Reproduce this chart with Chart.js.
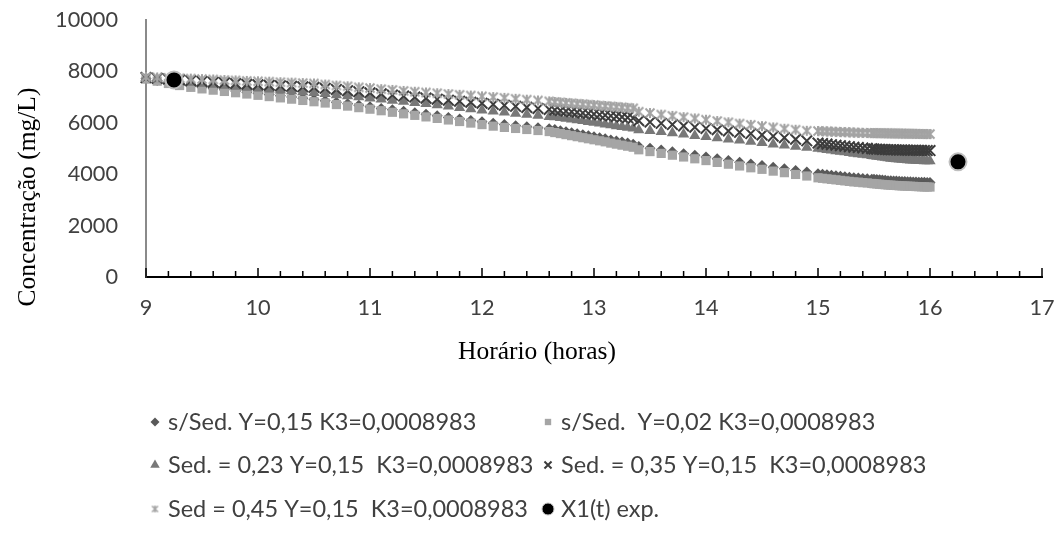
<!DOCTYPE html>
<html>
<head>
<meta charset="utf-8">
<script src="https://cdn.jsdelivr.net/npm/chart.js"></script>
<style>
  html, body { margin: 0; padding: 0; background: #fff; }
  #wrap { width: 1061px; height: 536px; }
</style>
</head>
<body>
<div id="wrap"><canvas id="c" width="1061" height="536"></canvas></div>
<script>
// Simulation times (hours)
const horas = [
  9, 9.1, 9.2, 9.3, 9.4, 9.5, 9.6, 9.7, 9.8, 9.9,
  10, 10.1, 10.2, 10.3, 10.4, 10.5, 10.6, 10.7, 10.8, 10.9,
  11, 11.1, 11.2, 11.3, 11.4, 11.5, 11.6, 11.7, 11.8, 11.9,
  12, 12.1, 12.2, 12.3, 12.4, 12.5, 12.6,
  12.65, 12.7, 12.75, 12.8, 12.85, 12.9, 12.95, 13, 13.05, 13.1, 13.15, 13.2, 13.25, 13.3, 13.35,
  13.4, 13.5, 13.6, 13.7, 13.8, 13.9, 14, 14.1, 14.2, 14.3, 14.4, 14.5, 14.6, 14.7, 14.8, 14.9,
  15, 15.04, 15.08, 15.12, 15.16, 15.2, 15.24, 15.28, 15.32, 15.36, 15.4, 15.44, 15.48,
  15.5, 15.525, 15.55, 15.575, 15.6, 15.625, 15.65, 15.675, 15.7, 15.725, 15.75, 15.775,
  15.8, 15.825, 15.85, 15.875, 15.9, 15.925, 15.95, 15.975, 16
];

// Concentration (mg/L) without sedimentation, Y = 0,15
const semSedY015 = [
  7720, 7650, 7570, 7500, 7430, 7380, 7330, 7290, 7240, 7190,
  7150, 7100, 7050, 7000, 6960, 6910, 6860, 6800, 6740, 6680,
  6620, 6560, 6510, 6450, 6390, 6330, 6270, 6210, 6150, 6090,
  6040, 5980, 5930, 5890, 5850, 5810, 5770,
  5735, 5695, 5655, 5615, 5575, 5535, 5495, 5455, 5415, 5375, 5330, 5290, 5250, 5210, 5170,
  5080, 5010, 4940, 4870, 4800, 4735, 4665, 4600, 4530, 4465, 4395, 4340, 4270, 4210, 4145, 4085,
  4020, 4000, 3980, 3960, 3940, 3920, 3900, 3885, 3865, 3855, 3835, 3825, 3805,
  3800, 3790, 3780, 3770, 3760, 3750, 3745, 3740, 3735, 3725, 3720, 3715,
  3710, 3705, 3700, 3695, 3690, 3690, 3685, 3680, 3680
];

// Without sedimentation, Y = 0,02
const semSedY002 = [
  7700, 7620, 7530, 7450, 7380, 7320, 7270, 7220, 7170, 7120,
  7070, 7020, 6970, 6920, 6870, 6820, 6770, 6710, 6650, 6590,
  6530, 6470, 6410, 6350, 6290, 6230, 6170, 6110, 6050, 5990,
  5930, 5870, 5820, 5780, 5740, 5700, 5660,
  5620, 5580, 5540, 5500, 5460, 5420, 5380, 5340, 5300, 5260, 5210, 5170, 5130, 5090, 5050,
  4950, 4880, 4810, 4740, 4670, 4600, 4530, 4460, 4390, 4320, 4250, 4190, 4120, 4060, 3990, 3930,
  3860, 3840, 3820, 3800, 3780, 3760, 3740, 3720, 3700, 3690, 3670, 3660, 3640,
  3630, 3620, 3610, 3600, 3590, 3580, 3575, 3565, 3560, 3550, 3545, 3540,
  3535, 3530, 3525, 3520, 3515, 3510, 3505, 3500, 3500
];

// Sedimentation 0,23
const sed023 = [
  7750, 7705, 7660, 7615, 7570, 7530, 7490, 7450, 7415, 7375,
  7340, 7305, 7270, 7235, 7200, 7170, 7130, 7085, 7045, 7000,
  6960, 6915, 6870, 6830, 6785, 6740, 6690, 6640, 6590, 6540,
  6490, 6450, 6410, 6365, 6325, 6280, 6240,
  6230, 6200, 6170, 6140, 6110, 6075, 6045, 6010, 5980, 5945, 5910, 5880, 5850, 5820, 5790,
  5720, 5690, 5650, 5600, 5550, 5500, 5460, 5410, 5360, 5320, 5270, 5220, 5170, 5130, 5080, 5040,
  5000, 4980, 4955, 4930, 4905, 4880, 4860, 4835, 4810, 4790, 4765, 4745, 4720,
  4710, 4690, 4675, 4660, 4645, 4630, 4615, 4600, 4590, 4580, 4570, 4560,
  4550, 4545, 4540, 4530, 4525, 4520, 4515, 4510, 4510
];

// Sedimentation 0,35
const sed035 = [
  7760, 7730, 7700, 7670, 7640, 7610, 7580, 7555, 7530, 7500,
  7480, 7460, 7440, 7420, 7400, 7380, 7340, 7300, 7250, 7210,
  7170, 7130, 7080, 7040, 7000, 6960, 6920, 6880, 6840, 6800,
  6760, 6720, 6680, 6640, 6600, 6560, 6520,
  6500, 6475, 6455, 6430, 6410, 6385, 6365, 6340, 6315, 6295, 6270, 6250, 6225, 6205, 6180,
  6080, 6030, 5980, 5930, 5880, 5830, 5780, 5730, 5680, 5630, 5580, 5530, 5480, 5420, 5360, 5300,
  5210, 5190, 5170, 5150, 5130, 5110, 5090, 5070, 5050, 5035, 5020, 5005, 4990,
  4980, 4975, 4970, 4965, 4960, 4955, 4950, 4948, 4945, 4942, 4940, 4938,
  4935, 4932, 4930, 4928, 4926, 4924, 4922, 4920, 4920
];

// Sedimentation 0,45
const sed045 = [
  7780, 7765, 7750, 7735, 7720, 7700, 7685, 7665, 7650, 7630,
  7615, 7600, 7580, 7565, 7545, 7530, 7490, 7450, 7420, 7380,
  7350, 7310, 7280, 7240, 7210, 7180, 7150, 7120, 7090, 7060,
  7030, 7000, 6970, 6935, 6900, 6870, 6835,
  6810, 6795, 6775, 6760, 6740, 6725, 6705, 6690, 6670, 6655, 6635, 6620, 6600, 6585, 6565,
  6430, 6380, 6320, 6270, 6220, 6170, 6120, 6070, 6020, 5970, 5920, 5870, 5820, 5770, 5730, 5690,
  5680, 5670, 5665, 5655, 5650, 5640, 5635, 5630, 5620, 5615, 5610, 5605, 5600,
  5600, 5598, 5596, 5594, 5592, 5590, 5588, 5586, 5584, 5582, 5580, 5578,
  5576, 5574, 5572, 5570, 5568, 5566, 5564, 5562, 5560
];

// Experimental measurements X1(t)
const expHoras = [9.25, 16.25];
const expConc = [7670, 4480];

// Axis tick values
const yTicks = [0, 2000, 4000, 6000, 8000, 10000];
const xMin = 9, xMax = 17;

const xTitle = 'Horário (horas)';
const yTitle = 'Concentração (mg/L)';

const pts = (xs, ys) => xs.map((x, i) => ({ x: x, y: ys[i] }));

// Asterisk-like star marker (X plus a vertical bar)
function starMarker(size, color, lw) {
  const c = document.createElement('canvas');
  c.width = c.height = size;
  const g = c.getContext('2d');
  g.strokeStyle = color;
  g.lineWidth = lw;
  const m = size / 2, a = size / 2 - 1.5;
  g.beginPath();
  g.moveTo(m - a, m - a); g.lineTo(m + a, m + a);
  g.moveTo(m + a, m - a); g.lineTo(m - a, m + a);
  g.moveTo(m, m - a - 0.5); g.lineTo(m, m + a + 0.5);
  g.stroke();
  return c;
}
const starBig = starMarker(12, '#a3a3a3', 2);
const starSmall = starMarker(9, '#a3a3a3', 1.5);

const FONT = 'Lato, "Open Sans", sans-serif';

const datasets = [
  { label: 's/Sed. Y=0,15 K3=0,0008983', data: pts(horas, semSedY015),
    pointStyle: 'rectRot', pointRadius: 5.5, backgroundColor: '#595959', borderColor: '#595959', borderWidth: 0, order: 6 },
  { label: 's/Sed.  Y=0,02 K3=0,0008983', data: pts(horas, semSedY002),
    pointStyle: 'rect', pointRadius: 6.5, backgroundColor: '#a5a5a5', borderColor: '#a5a5a5', borderWidth: 0, order: 5 },
  { label: 'Sed. = 0,23 Y=0,15  K3=0,0008983', data: pts(horas, sed023),
    pointStyle: 'triangle', pointRadius: 6.5, backgroundColor: '#787878', borderColor: '#787878', borderWidth: 0, order: 4 },
  { label: 'Sed. = 0,35 Y=0,15  K3=0,0008983', data: pts(horas, sed035),
    pointStyle: 'crossRot', pointRadius: 7.5, backgroundColor: '#3c3c3c', borderColor: '#3c3c3c', borderWidth: 2, order: 3 },
  { label: 'Sed = 0,45 Y=0,15  K3=0,0008983', data: pts(horas, sed045),
    pointStyle: starBig, pointRadius: 6, backgroundColor: '#a3a3a3', borderColor: '#a3a3a3', borderWidth: 0, order: 2 },
  { label: 'X1(t) exp.', data: pts(expHoras, expConc),
    pointStyle: 'circle', pointRadius: 8.5, backgroundColor: '#000', borderColor: '#bfbfbf', borderWidth: 2, order: 1 }
];

// Legend marker sizes (smaller than plot markers)
const legendStyle = [
  { r: 4.5 }, { r: 4.5 }, { r: 5.5 }, { r: 5 }, { img: starSmall }, { r: 6, bw: 1 }
];

// Inward tick marks on the time axis (longer at whole hours)
const xTickMarks = {
  id: 'xTickMarks',
  beforeDatasetsDraw(chart) {
    const s = chart.scales.x, ctx = chart.ctx, b = chart.chartArea.bottom;
    ctx.save();
    ctx.strokeStyle = '#000';
    ctx.lineWidth = 1.5;
    s.ticks.forEach(t => {
      const px = s.getPixelForValue(t.value);
      const major = Math.abs(t.value - Math.round(t.value)) < 1e-6;
      ctx.beginPath();
      ctx.moveTo(px, b - (major ? 9 : 6));
      ctx.lineTo(px, b + (major ? 1 : 0));
      ctx.stroke();
    });
    ctx.restore();
  }
};

// Axis titles in serif type
const axisTitles = {
  id: 'axisTitles',
  afterDraw(chart) {
    const ctx = chart.ctx;
    ctx.save();
    ctx.fillStyle = '#000';
    ctx.font = '25.5px "Liberation Serif", "Times New Roman", serif';
    ctx.textAlign = 'center';
    ctx.textBaseline = 'middle';
    ctx.fillText(xTitle, 537, 352);
    ctx.translate(28, 197);
    ctx.rotate(-Math.PI / 2);
    ctx.fillText(yTitle, 0, 0);
    ctx.restore();
  }
};

// Two-column legend below the plot
const gridLegend = {
  id: 'gridLegend',
  afterDraw(chart) {
    const ctx = chart.ctx;
    const colX = [155, 548];
    const rowY = [422, 465, 509];
    ctx.save();
    chart.data.datasets.forEach((ds, i) => {
      const x = colX[i % 2], y = rowY[Math.floor(i / 2)];
      const ls = legendStyle[i];
      const bw = ls.bw !== undefined ? ls.bw : ds.borderWidth;
      ctx.fillStyle = ds.backgroundColor;
      ctx.strokeStyle = ds.borderColor;
      ctx.lineWidth = bw;
      Chart.helpers.drawPoint(ctx, {
        pointStyle: ls.img || ds.pointStyle,
        radius: ls.r || 4,
        rotation: 0,
        borderWidth: bw
      }, x, y);
      ctx.fillStyle = '#404040';
      ctx.font = '23.5px ' + FONT;
      ctx.textAlign = 'left';
      ctx.textBaseline = 'alphabetic';
      ctx.fillText(ds.label, x + 13, y + 8.3);
    });
    ctx.restore();
  }
};

// Plot area edges on the page
const AREA = { left: 146, top: 20, right: 1042, bottom: 277 };

const chart = new Chart(document.getElementById('c'), {
  type: 'scatter',
  data: { datasets: datasets },
  options: {
    responsive: false,
    animation: false,
    events: [],
    layout: { padding: { left: 0, top: AREA.top, right: 1061 - AREA.right, bottom: 0 } },
    datasets: { scatter: { clip: false } },
    plugins: { legend: { display: false }, tooltip: { enabled: false } },
    scales: {
      x: {
        type: 'linear',
        min: xMin, max: xMax,
        afterFit: s => { s.height = 536 - AREA.bottom; s.paddingLeft = 0; s.paddingRight = 0; },
        grid: { display: false, drawTicks: false },
        border: { display: true, color: '#000', width: 2 },
        ticks: {
          stepSize: 0.2,
          autoSkip: false,
          maxRotation: 0,
          padding: 18,
          color: '#404040',
          font: { family: FONT, size: 21.7 },
          callback: v => (Math.abs(v - Math.round(v)) < 1e-6 ? String(Math.round(v)) : '')
        }
      },
      y: {
        type: 'linear',
        min: 0, max: 10000,
        afterFit: s => { s.width = AREA.left; s.paddingTop = 0; s.paddingBottom = 0; },
        afterBuildTicks: s => { s.ticks = yTicks.map(v => ({ value: v })); },
        grid: { display: false, drawTicks: false },
        border: { display: true, color: '#8a8a8a', width: 2 },
        ticks: {
          padding: 28,
          color: '#404040',
          font: { family: FONT, size: 21.7 },
          callback: v => String(v)
        }
      }
    }
  },
  plugins: [xTickMarks, axisTitles, gridLegend]
});

// Nudge the layout padding so the plot area lands on AREA
(function fitArea() {
  const ca = chart.chartArea;
  const p = chart.options.layout.padding;
  const dTop = ca.top - AREA.top, dRight = AREA.right - ca.right;
  if (Math.abs(dTop) > 0.5 || Math.abs(dRight) > 0.5) {
    p.top = Math.max(0, p.top - dTop);
    p.right = Math.max(0, p.right - dRight);
    chart.update();
  }
})();
</script>
</body>
</html>
